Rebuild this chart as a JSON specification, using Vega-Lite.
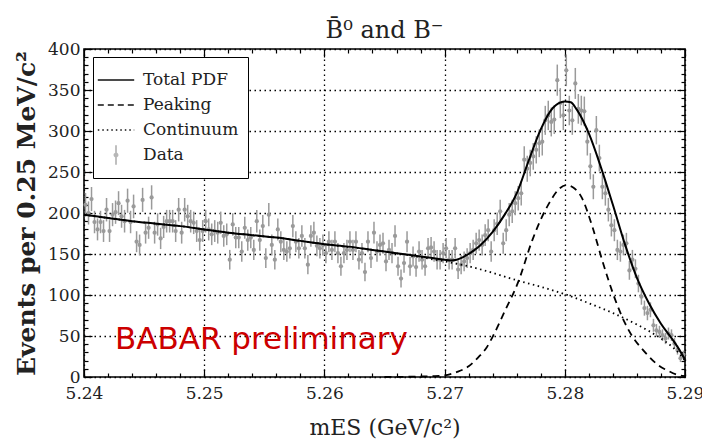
{
  "$schema": "https://vega.github.io/schema/vega-lite/v6.json",
  "width": 601,
  "height": 328,
  "autosize": {"type": "none"},
  "padding": {"left": 84, "top": 49, "right": 17, "bottom": 65},
  "background": "white",
  "title": {"text": "B\u0304\u2070  and B\u207b", "font": "DejaVu Serif", "fontSize": 24, "fontWeight": "normal", "color": "#222", "offset": -3},
  "config": {
    "view": {"stroke": "black", "strokeWidth": 1.6},
    "axis": {"domain": false, "tickColor": "black", "tickWidth": 1.2, "labelFont": "DejaVu Serif", "labelFontSize": 17, "labelColor": "#222", "labelFlush": false, "labelOverlap": false, "titleFont": "DejaVu Serif", "titleColor": "#222"}
  },
  "datasets": {
    "pts": [
      {"x":5.240125,"y":210,"e":14.5},{"x":5.240375,"y":200,"e":14.1},{"x":5.240625,"y":217,"e":14.7},{"x":5.240875,"y":189,"e":13.7},
      {"x":5.241125,"y":180,"e":13.4},{"x":5.241375,"y":189,"e":13.7},{"x":5.241625,"y":178,"e":13.3},{"x":5.241875,"y":204,"e":14.3},
      {"x":5.242125,"y":178,"e":13.3},{"x":5.242375,"y":198,"e":14.1},{"x":5.242625,"y":201,"e":14.2},{"x":5.242875,"y":212,"e":14.6},
      {"x":5.243125,"y":196,"e":14},{"x":5.243375,"y":190,"e":13.8},{"x":5.243625,"y":215,"e":14.7},{"x":5.243875,"y":189,"e":13.7},
      {"x":5.244125,"y":208,"e":14.4},{"x":5.244375,"y":165,"e":12.8},{"x":5.244625,"y":161,"e":12.7},{"x":5.244875,"y":216,"e":14.7},
      {"x":5.245125,"y":176,"e":13.3},{"x":5.245375,"y":182,"e":13.5},{"x":5.245625,"y":219,"e":14.8},{"x":5.245875,"y":176,"e":13.3},
      {"x":5.246125,"y":186,"e":13.6},{"x":5.246375,"y":169,"e":13},{"x":5.246625,"y":183,"e":13.5},{"x":5.246875,"y":190,"e":13.8},
      {"x":5.247125,"y":190,"e":13.8},{"x":5.247375,"y":190,"e":13.8},{"x":5.247625,"y":178,"e":13.3},{"x":5.247875,"y":204,"e":14.3},
      {"x":5.248125,"y":176,"e":13.3},{"x":5.248375,"y":204,"e":14.3},{"x":5.248625,"y":196,"e":14},{"x":5.248875,"y":190,"e":13.8},
      {"x":5.249125,"y":188,"e":13.7},{"x":5.249375,"y":178,"e":13.3},{"x":5.249625,"y":167,"e":12.9},{"x":5.249875,"y":178,"e":13.3},
      {"x":5.250125,"y":190,"e":13.8},{"x":5.250375,"y":180,"e":13.4},{"x":5.250625,"y":174,"e":13.2},{"x":5.250875,"y":178,"e":13.3},
      {"x":5.251125,"y":176,"e":13.3},{"x":5.251375,"y":188,"e":13.7},{"x":5.251625,"y":172,"e":13.1},{"x":5.251875,"y":174,"e":13.2},
      {"x":5.252125,"y":143,"e":12},{"x":5.252375,"y":186,"e":13.6},{"x":5.252625,"y":170,"e":13},{"x":5.252875,"y":170,"e":13},
      {"x":5.253125,"y":153,"e":12.4},{"x":5.253375,"y":182,"e":13.5},{"x":5.253625,"y":167,"e":12.9},{"x":5.253875,"y":170,"e":13},
      {"x":5.254125,"y":155,"e":12.4},{"x":5.254375,"y":190,"e":13.8},{"x":5.254625,"y":167,"e":12.9},{"x":5.254875,"y":184,"e":13.6},
      {"x":5.255125,"y":145,"e":12},{"x":5.255375,"y":198,"e":14.1},{"x":5.255625,"y":161,"e":12.7},{"x":5.255875,"y":143,"e":12},
      {"x":5.256125,"y":180,"e":13.4},{"x":5.256375,"y":165,"e":12.8},{"x":5.256625,"y":155,"e":12.4},{"x":5.256875,"y":153,"e":12.4},
      {"x":5.257125,"y":157,"e":12.5},{"x":5.257375,"y":184,"e":13.6},{"x":5.257625,"y":165,"e":12.8},{"x":5.257875,"y":157,"e":12.5},
      {"x":5.258125,"y":172,"e":13.1},{"x":5.258375,"y":157,"e":12.5},{"x":5.258625,"y":137,"e":11.7},{"x":5.258875,"y":172,"e":13.1},
      {"x":5.259125,"y":176,"e":13.3},{"x":5.259375,"y":160,"e":12.6},{"x":5.259625,"y":157,"e":12.5},{"x":5.259875,"y":161,"e":12.7},
      {"x":5.260125,"y":151,"e":12.3},{"x":5.260375,"y":165,"e":12.8},{"x":5.260625,"y":155,"e":12.4},{"x":5.260875,"y":165,"e":12.8},
      {"x":5.261125,"y":151,"e":12.3},{"x":5.261375,"y":135,"e":11.6},{"x":5.261625,"y":151,"e":12.3},{"x":5.261875,"y":155,"e":12.4},
      {"x":5.262125,"y":165,"e":12.8},{"x":5.262375,"y":155,"e":12.4},{"x":5.262625,"y":165,"e":12.8},{"x":5.262875,"y":143,"e":12},
      {"x":5.263125,"y":151,"e":12.3},{"x":5.263375,"y":128,"e":11.3},{"x":5.263625,"y":165,"e":12.8},{"x":5.263875,"y":145,"e":12},
      {"x":5.264125,"y":176,"e":13.3},{"x":5.264375,"y":153,"e":12.4},{"x":5.264625,"y":161,"e":12.7},{"x":5.264875,"y":163,"e":12.8},
      {"x":5.265125,"y":141,"e":11.9},{"x":5.265375,"y":155,"e":12.4},{"x":5.265625,"y":151,"e":12.3},{"x":5.265875,"y":172,"e":13.1},
      {"x":5.266125,"y":135,"e":11.6},{"x":5.266375,"y":120,"e":11},{"x":5.266625,"y":139,"e":11.8},{"x":5.266875,"y":165,"e":12.8},
      {"x":5.267125,"y":135,"e":11.6},{"x":5.267375,"y":147,"e":12.1},{"x":5.267625,"y":134,"e":11.6},{"x":5.267875,"y":153,"e":12.4},
      {"x":5.268125,"y":143,"e":12},{"x":5.268375,"y":135,"e":11.6},{"x":5.268625,"y":157,"e":12.5},{"x":5.268875,"y":158,"e":12.6},
      {"x":5.269125,"y":153,"e":12.4},{"x":5.269375,"y":143,"e":12},{"x":5.269625,"y":143,"e":12},{"x":5.269875,"y":151,"e":12.3},
      {"x":5.270125,"y":157,"e":12.5},{"x":5.270375,"y":143,"e":12},{"x":5.270625,"y":143,"e":12},{"x":5.270875,"y":157,"e":12.5},
      {"x":5.271125,"y":131,"e":11.4},{"x":5.271375,"y":137,"e":11.7},{"x":5.271625,"y":141,"e":11.9},{"x":5.271875,"y":145,"e":12},
      {"x":5.272125,"y":151,"e":12.3},{"x":5.272375,"y":155,"e":12.4},{"x":5.272625,"y":163,"e":12.8},{"x":5.272875,"y":167,"e":12.9},
      {"x":5.273125,"y":161,"e":12.7},{"x":5.273375,"y":173,"e":13.2},{"x":5.273625,"y":179,"e":13.4},{"x":5.273875,"y":153,"e":12.4},
      {"x":5.274125,"y":179,"e":13.4},{"x":5.274375,"y":187,"e":13.7},{"x":5.274625,"y":202,"e":14.2},{"x":5.274875,"y":163,"e":12.8},
      {"x":5.275125,"y":179,"e":13.4},{"x":5.275375,"y":198,"e":14.1},{"x":5.275625,"y":202,"e":14.2},{"x":5.275875,"y":212,"e":14.6},
      {"x":5.276125,"y":218,"e":14.8},{"x":5.276375,"y":224,"e":15},{"x":5.276625,"y":265,"e":16.3},{"x":5.276875,"y":254,"e":15.9},
      {"x":5.277125,"y":261,"e":16.2},{"x":5.277375,"y":269,"e":16.4},{"x":5.277625,"y":277,"e":16.6},{"x":5.277875,"y":285,"e":16.9},
      {"x":5.278125,"y":287,"e":16.9},{"x":5.278375,"y":313,"e":17.7},{"x":5.278625,"y":319,"e":17.9},{"x":5.278875,"y":311,"e":17.6},
      {"x":5.279125,"y":314,"e":17.7},{"x":5.279375,"y":362,"e":19},{"x":5.279625,"y":334,"e":18.3},{"x":5.279875,"y":319,"e":17.9},
      {"x":5.280125,"y":374,"e":19.3},{"x":5.280375,"y":325,"e":18},{"x":5.280625,"y":313,"e":17.7},{"x":5.280875,"y":358,"e":18.9},
      {"x":5.281125,"y":327,"e":18.1},{"x":5.281375,"y":325,"e":18},{"x":5.281625,"y":324,"e":18},{"x":5.281875,"y":287,"e":16.9},
      {"x":5.282125,"y":257,"e":16},{"x":5.282375,"y":232,"e":15.2},{"x":5.282625,"y":301,"e":17.3},{"x":5.282875,"y":267,"e":16.3},
      {"x":5.283125,"y":232,"e":15.2},{"x":5.283375,"y":224,"e":15},{"x":5.283625,"y":204,"e":14.3},{"x":5.283875,"y":185,"e":13.6},
      {"x":5.284125,"y":179,"e":13.4},{"x":5.284375,"y":155,"e":12.4},{"x":5.284625,"y":153,"e":12.4},{"x":5.284875,"y":161,"e":12.7},
      {"x":5.285125,"y":163,"e":12.8},{"x":5.285375,"y":130,"e":11.4},{"x":5.285625,"y":143,"e":12},{"x":5.285875,"y":132,"e":11.5},
      {"x":5.286125,"y":114,"e":10.7},{"x":5.286375,"y":98,"e":9.9},{"x":5.286625,"y":84,"e":9.2},{"x":5.286875,"y":78,"e":8.8},
      {"x":5.287125,"y":82,"e":9.1},{"x":5.287375,"y":63,"e":7.9},{"x":5.287625,"y":57,"e":7.5},{"x":5.287875,"y":55,"e":7.4},
      {"x":5.288125,"y":51,"e":7.1},{"x":5.288375,"y":47,"e":6.9},{"x":5.288625,"y":53,"e":7.3},{"x":5.288875,"y":51,"e":7.1},
      {"x":5.289125,"y":41,"e":6.4},{"x":5.289375,"y":33,"e":5.7},{"x":5.289625,"y":23,"e":4.8},{"x":5.289875,"y":27,"e":5.2}
    ],
    "total": [
      {"x":5.24,"y":198},{"x":5.242,"y":194},{"x":5.244,"y":190},{"x":5.246,"y":187},{"x":5.248,"y":184},{"x":5.25,"y":180},
      {"x":5.252,"y":176},{"x":5.254,"y":173},{"x":5.256,"y":170},{"x":5.258,"y":166},{"x":5.26,"y":162},{"x":5.262,"y":159},
      {"x":5.264,"y":155},{"x":5.266,"y":151},{"x":5.268,"y":147},{"x":5.269,"y":145},{"x":5.27,"y":143},{"x":5.2705,"y":142},
      {"x":5.271,"y":143},{"x":5.2715,"y":146},{"x":5.272,"y":150},{"x":5.2725,"y":155},{"x":5.273,"y":161},{"x":5.274,"y":177},
      {"x":5.275,"y":198},{"x":5.276,"y":224},{"x":5.277,"y":264},{"x":5.278,"y":302},{"x":5.279,"y":328},{"x":5.28,"y":336},
      {"x":5.2805,"y":335},{"x":5.281,"y":326},{"x":5.282,"y":297},{"x":5.283,"y":256},{"x":5.284,"y":210},{"x":5.285,"y":162},
      {"x":5.286,"y":121},{"x":5.287,"y":90},{"x":5.288,"y":65},{"x":5.289,"y":45},{"x":5.2895,"y":34},{"x":5.29,"y":21}
    ],
    "peak": [
      {"x":5.265,"y":0},{"x":5.267,"y":0.3},{"x":5.268,"y":0.6},{"x":5.269,"y":1},{"x":5.27,"y":2},{"x":5.271,"y":6},
      {"x":5.272,"y":13},{"x":5.2728,"y":24},{"x":5.2735,"y":36},{"x":5.2741,"y":52},{"x":5.275,"y":80},{"x":5.2761,"y":115},
      {"x":5.2773,"y":167},{"x":5.278,"y":192},{"x":5.2787,"y":212},{"x":5.2795,"y":229},{"x":5.2801,"y":234},{"x":5.2807,"y":231},
      {"x":5.2814,"y":219},{"x":5.2823,"y":183},{"x":5.2831,"y":143},{"x":5.2842,"y":94},{"x":5.285,"y":66},{"x":5.2856,"y":50},
      {"x":5.2865,"y":33},{"x":5.287,"y":25},{"x":5.2879,"y":13},{"x":5.2884,"y":9},{"x":5.2893,"y":3},{"x":5.29,"y":1}
    ],
    "cont": [
      {"x":5.24,"y":198},{"x":5.244,"y":190},{"x":5.248,"y":184},{"x":5.252,"y":176},{"x":5.256,"y":170},{"x":5.26,"y":162},
      {"x":5.264,"y":155},{"x":5.268,"y":146},{"x":5.27,"y":141},{"x":5.272,"y":135},{"x":5.274,"y":127},{"x":5.276,"y":118},
      {"x":5.278,"y":110},{"x":5.28,"y":101},{"x":5.282,"y":90},{"x":5.284,"y":78},{"x":5.286,"y":64},{"x":5.287,"y":56},
      {"x":5.288,"y":47},{"x":5.289,"y":36},{"x":5.2895,"y":29},{"x":5.29,"y":20}
    ]
  },
  "layer": [
    {
      "data": {"name": "pts"},
      "mark": {"type": "errorbar", "color": "#9a9a9a", "thickness": 1.5},
      "encoding": {
        "x": {"field": "x", "type": "quantitative", "scale": {"domain": [5.24, 5.29], "nice": false, "zero": false}, "axis": null},
        "y": {"field": "y", "type": "quantitative", "scale": {"domain": [0, 400], "nice": false}, "axis": null},
        "yError": {"field": "e"}
      }
    },
    {
      "data": {"name": "pts"},
      "mark": {"type": "point", "filled": true, "color": "#9a9a9a", "opacity": 1, "size": 18},
      "encoding": {
        "x": {"field": "x", "type": "quantitative", "scale": {"domain": [5.24, 5.29], "nice": false, "zero": false},
          "axis": {
            "orient": "bottom",
            "values": [5.24,5.242,5.244,5.246,5.248,5.25,5.252,5.254,5.256,5.258,5.26,5.262,5.264,5.266,5.268,5.27,5.272,5.274,5.276,5.278,5.28,5.282,5.284,5.286,5.288,5.29],
            "labelExpr": "abs(datum.value*100-round(datum.value*100))<0.01 ? format(datum.value,'.2f') : ''",
            "tickSize": {"condition": {"test": "abs(datum.value*100-round(datum.value*100))<0.01", "value": -8}, "value": -4},
            "grid": true, "gridColor": "black", "gridDash": [1.5, 3.5], "gridWidth": 1.3,
            "gridOpacity": {"condition": {"test": "abs(datum.value*100-round(datum.value*100))<0.01", "value": 1}, "value": 0},
            "labelPadding": 16,
            "title": "mES (GeV/c\u00b2)", "titleFontSize": 22, "titleFontWeight": "normal", "titlePadding": 12
          }
        },
        "y": {"field": "y", "type": "quantitative", "scale": {"domain": [0, 400], "nice": false},
          "axis": {
            "orient": "left",
            "values": [0,10,20,30,40,50,60,70,80,90,100,110,120,130,140,150,160,170,180,190,200,210,220,230,240,250,260,270,280,290,300,310,320,330,340,350,360,370,380,390,400],
            "labelExpr": "datum.value%50==0 ? datum.label : ''",
            "tickSize": {"condition": {"test": "datum.value%50==0", "value": -8}, "value": -4},
            "grid": true, "gridColor": "black", "gridDash": [1.5, 3.5], "gridWidth": 1.3,
            "gridOpacity": {"condition": {"test": "datum.value%50==0", "value": 1}, "value": 0},
            "labelPadding": 12,
            "title": "Events per 0.25 MeV/c\u00b2", "titleFontSize": 25, "titleFontWeight": "bold", "titlePadding": 8
          }
        }
      }
    },
    {
      "data": {"name": "cont"},
      "mark": {"type": "line", "color": "black", "strokeWidth": 1.8, "strokeDash": [1.5, 3.5], "interpolate": "monotone"},
      "encoding": {
        "x": {"field": "x", "type": "quantitative", "axis": null},
        "y": {"field": "y", "type": "quantitative", "axis": null}
      }
    },
    {
      "data": {"name": "peak"},
      "mark": {"type": "line", "color": "black", "strokeWidth": 1.8, "strokeDash": [7, 5], "interpolate": "monotone"},
      "encoding": {
        "x": {"field": "x", "type": "quantitative", "axis": null},
        "y": {"field": "y", "type": "quantitative", "axis": null}
      }
    },
    {
      "data": {"name": "total"},
      "mark": {"type": "line", "color": "black", "strokeWidth": 2, "interpolate": "monotone"},
      "encoding": {
        "x": {"field": "x", "type": "quantitative", "axis": null},
        "y": {"field": "y", "type": "quantitative", "axis": null}
      }
    },
    {
      "data": {"values": [{}]},
      "mark": {"type": "text", "font": "DejaVu Sans", "fontSize": 31, "color": "#cc0000", "align": "left", "baseline": "alphabetic"},
      "encoding": {
        "x": {"datum": 5.24258, "type": "quantitative", "axis": null},
        "y": {"datum": 34, "type": "quantitative", "axis": null},
        "text": {"value": "BABAR preliminary"}
      }
    },
    {
      "data": {"name": "pts"},
      "transform": [{"filter": "false"}],
      "mark": {"type": "point", "filled": false, "strokeWidth": 1.8},
      "encoding": {
        "x": {"field": "x", "type": "quantitative", "axis": null},
        "y": {"field": "y", "type": "quantitative", "axis": null},
        "color": {"field": "s", "type": "nominal",
          "scale": {"domain": ["Total PDF", "Peaking", "Continuum", "Data"], "range": ["black", "black", "black", "#9a9a9a"]},
          "legend": {"title": null, "orient": "none", "legendX": 9, "legendY": 8, "padding": 9, "strokeColor": "black", "fillColor": "white", "symbolSize": 676, "symbolStrokeWidth": 1.8, "labelFont": "DejaVu Serif", "labelFontSize": 17, "labelColor": "#222", "labelOffset": 13, "rowPadding": 3, "direction": "vertical"}},
        "shape": {"field": "s", "type": "nominal",
          "scale": {"domain": ["Total PDF", "Peaking", "Continuum", "Data"], "range": ["M-1.4,0H1.4", "M-1.4,0H1.4", "M-1.4,0H1.4", "M0,-0.75V0.75M-0.12,0A0.12,0.12,0,1,0,0.12,0A0.12,0.12,0,1,0,-0.12,0"]},
          "legend": {"title": null, "orient": "none", "legendX": 9, "legendY": 8, "padding": 9, "strokeColor": "black", "fillColor": "white", "symbolSize": 676, "symbolStrokeWidth": 1.8, "labelFont": "DejaVu Serif", "labelFontSize": 17, "labelColor": "#222", "labelOffset": 13, "rowPadding": 3, "direction": "vertical"}},
        "strokeDash": {"field": "s", "type": "nominal",
          "scale": {"domain": ["Total PDF", "Peaking", "Continuum", "Data"], "range": [[1, 0], [6, 4], [1.5, 3], [1, 0]]},
          "legend": {"title": null, "orient": "none", "legendX": 9, "legendY": 8, "padding": 9, "strokeColor": "black", "fillColor": "white", "symbolSize": 676, "symbolStrokeWidth": 1.8, "labelFont": "DejaVu Serif", "labelFontSize": 17, "labelColor": "#222", "labelOffset": 13, "rowPadding": 3, "direction": "vertical"}}
      }
    },
    {
      "data": {"name": "pts"},
      "transform": [{"filter": "false"}],
      "mark": {"type": "point"},
      "encoding": {
        "x": {"field": "x", "type": "quantitative",
          "axis": {
            "orient": "top",
            "values": [5.24,5.242,5.244,5.246,5.248,5.25,5.252,5.254,5.256,5.258,5.26,5.262,5.264,5.266,5.268,5.27,5.272,5.274,5.276,5.278,5.28,5.282,5.284,5.286,5.288,5.29],
            "labels": false, "grid": false, "title": null,
            "tickSize": {"condition": {"test": "abs(datum.value*100-round(datum.value*100))<0.01", "value": -8}, "value": -4}
          }
        },
        "y": {"field": "y", "type": "quantitative",
          "axis": {
            "orient": "right",
            "values": [0,10,20,30,40,50,60,70,80,90,100,110,120,130,140,150,160,170,180,190,200,210,220,230,240,250,260,270,280,290,300,310,320,330,340,350,360,370,380,390,400],
            "labels": false, "grid": false, "title": null,
            "tickSize": {"condition": {"test": "datum.value%50==0", "value": -8}, "value": -4}
          }
        }
      }
    }
  ],
  "resolve": {"axis": {"x": "independent", "y": "independent"}}
}
